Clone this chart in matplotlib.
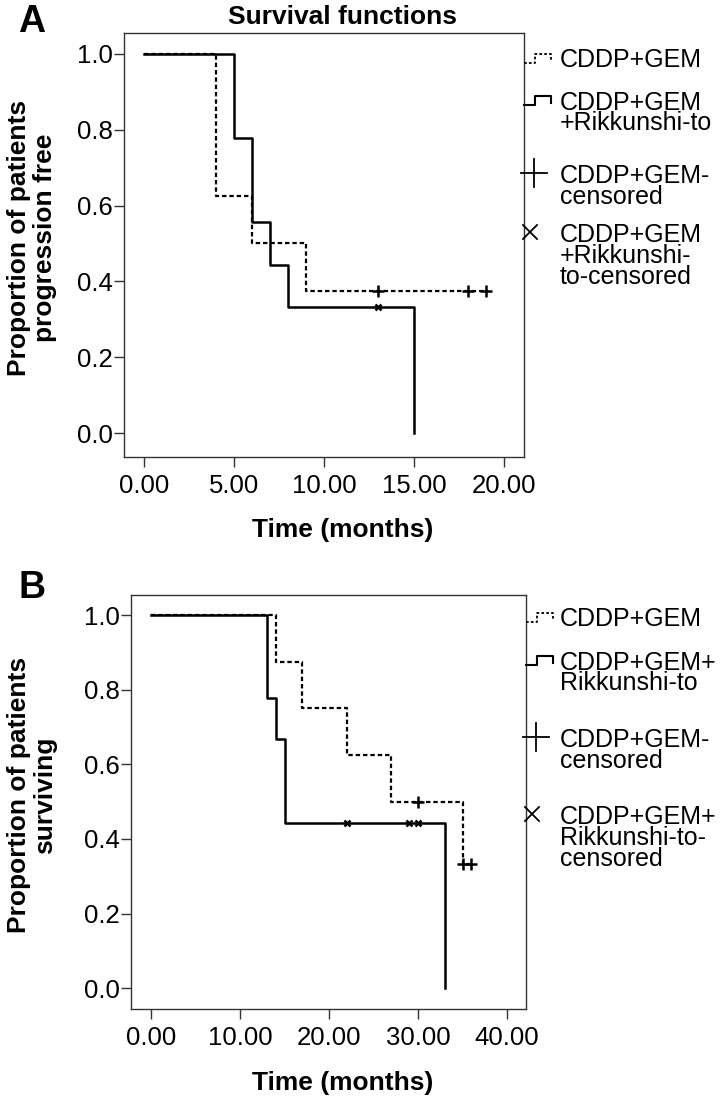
import matplotlib
matplotlib.use("Agg")
import matplotlib.pyplot as plt
from matplotlib.ticker import FormatStrFormatter

plt.rcParams['font.family'] = ['Liberation Sans', 'DejaVu Sans']

# Panel A - progression free survival
a_gem_t = [0, 4, 6, 9, 19]
a_gem_s = [1.0, 0.625, 0.5, 0.375, 0.375]
a_gem_cens_t = [13, 18, 19]
a_gem_cens_s = [0.375, 0.375, 0.375]

a_rik_t = [0, 5, 6, 7, 8, 15]
a_rik_s = [1.0, 0.778, 0.556, 0.444, 0.333, 0.0]
a_rik_cens_t = [13]
a_rik_cens_s = [0.333]

# Panel B - overall survival
b_gem_t = [0, 14, 17, 22, 27, 35, 36]
b_gem_s = [1.0, 0.875, 0.75, 0.625, 0.5, 0.333, 0.333]
b_gem_cens_t = [30, 35, 36]
b_gem_cens_s = [0.5, 0.333, 0.333]

b_rik_t = [0, 13, 14, 15, 33]
b_rik_s = [1.0, 0.778, 0.667, 0.444, 0.0]
b_rik_cens_t = [22, 29, 30]
b_rik_cens_s = [0.444, 0.444, 0.444]

a_xticks = [0, 5, 10, 15, 20]
b_xticks = [0, 10, 20, 30, 40]
yticks = [0.0, 0.2, 0.4, 0.6, 0.8, 1.0]

legend_a = [["CDDP+GEM"], ["CDDP+GEM", "+Rikkunshi-to"], ["CDDP+GEM-", "censored"],
            ["CDDP+GEM", "+Rikkunshi-", "to-censored"]]
legend_b = [["CDDP+GEM"], ["CDDP+GEM+", "Rikkunshi-to"], ["CDDP+GEM-", "censored"],
            ["CDDP+GEM+", "Rikkunshi-to-", "censored"]]

W, H = 720, 1105
fig = plt.figure(figsize=(W / 100, H / 100), dpi=100)
fig.patch.set_facecolor('white')

DASH = (0, (2.0, 1.3))


def box(l, t, r, b):
    return [l / W, 1 - b / H, (r - l) / W, (b - t) / H]


def km_panel(ax, gt, gs, gct, gcs, rt, rs, rct, rcs, xticks, xlim, ylim):
    ax.step(gt, gs, where='post', color='black', lw=1.6, linestyle=DASH, zorder=2)
    ax.plot(gct, gcs, linestyle='none', marker='+', ms=8, mew=1.8, color='black', zorder=3)
    ax.step(rt, rs, where='post', color='black', lw=1.8, zorder=4)
    ax.plot(rct, rcs, linestyle='none', marker='x', ms=4.5, mew=1.8, color='black', zorder=5)
    ax.set_xlim(*xlim)
    ax.set_ylim(*ylim)
    ax.set_xticks(xticks)
    ax.set_yticks(yticks)
    ax.xaxis.set_major_formatter(FormatStrFormatter('%.2f'))
    ax.yaxis.set_major_formatter(FormatStrFormatter('%.1f'))
    ax.tick_params(axis='both', direction='out', length=7, width=1, color='#333333',
                   labelsize=18.5)
    ax.tick_params(axis='x', pad=5)
    ax.tick_params(axis='y', pad=1)
    for sp in ax.spines.values():
        sp.set_color('#333333')
        sp.set_linewidth(1)


ax_a = fig.add_axes(box(124, 33, 524, 457))
km_panel(ax_a, a_gem_t, a_gem_s, a_gem_cens_t, a_gem_cens_s,
         a_rik_t, a_rik_s, a_rik_cens_t, a_rik_cens_s,
         a_xticks, (-1.11, 21.11), (-0.063, 1.055))

ax_b = fig.add_axes(box(131, 595, 526, 1009))
km_panel(ax_b, b_gem_t, b_gem_s, b_gem_cens_t, b_gem_cens_s,
         b_rik_t, b_rik_s, b_rik_cens_t, b_rik_cens_s,
         b_xticks, (-2.25, 42.13), (-0.056, 1.054))

# overlay in pixel coordinates for labels and the legends
ov = fig.add_axes([0, 0, 1, 1], zorder=10)
ov.set_xlim(0, W)
ov.set_ylim(H, 0)
ov.axis('off')
ov.patch.set_visible(False)

ov.text(32, 22, "A", fontsize=27, fontweight='bold', ha='center', va='center')
ov.text(32, 588, "B", fontsize=27, fontweight='bold', ha='center', va='center')
ov.text(343, 17, "Survival functions", fontsize=19, fontweight='bold', ha='center', va='center')

ov.text(32, 238, "Proportion of patients\nprogression free", fontsize=19, fontweight='bold',
        rotation=90, ha='center', va='center', linespacing=1.1)
ov.text(32, 795, "Proportion of patients\nsurviving", fontsize=19, fontweight='bold',
        rotation=90, ha='center', va='center', linespacing=1.1)
ov.text(343, 530, "Time (months)", fontsize=19, fontweight='bold', ha='center', va='center')
ov.text(343, 1083, "Time (months)", fontsize=19, fontweight='bold', ha='center', va='center')

PITCH = 21.5


def legend(x0, ys, labels):
    # dashed step
    y = ys[0]
    ov.plot([x0, x0 + 11, x0 + 11, x0 + 27, x0 + 27], [y + 5, y + 5, y - 4, y - 4, y + 3],
            color='black', lw=1.3, linestyle=(0, (1.5, 1.2)))
    # solid step
    y = ys[1]
    ov.plot([x0, x0 + 11, x0 + 11, x0 + 27, x0 + 27], [y + 5, y + 5, y - 4, y - 4, y + 3],
            color='black', lw=1.5)
    # plus
    y = ys[2]
    ov.plot([x0 - 3, x0 + 23], [y, y], color='black', lw=1.3)
    ov.plot([x0 + 10, x0 + 10], [y - 14, y + 14], color='black', lw=1.3)
    # cross
    y = ys[3]
    ov.plot([x0 - 1, x0 + 13], [y - 7, y + 7], color='black', lw=1.3)
    ov.plot([x0 - 1, x0 + 13], [y + 7, y - 7], color='black', lw=1.3)
    for lines, ly in zip(labels, ys):
        # baseline alignment goes to the last line of the block
        yb = ly + 9 + (len(lines) - 1) * PITCH
        ov.text(560, yb, "\n".join(lines), fontsize=18, ha='left', va='baseline',
                linespacing=0.84)


legend(524, [58, 100, 173, 232], legend_a)
legend(526, [617, 660, 737, 814], legend_b)

fig.savefig("out.png", dpi=100, facecolor='white')
